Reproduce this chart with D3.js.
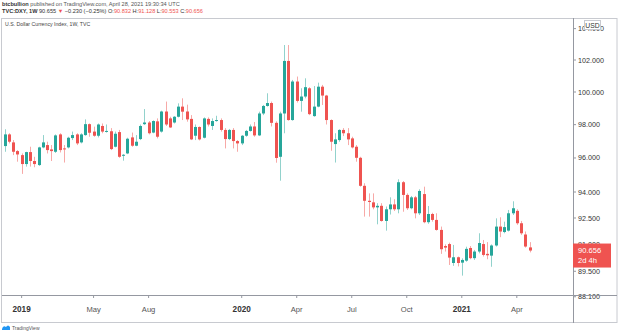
<!DOCTYPE html>
<html><head><meta charset="utf-8">
<script src="https://cdn.jsdelivr.net/npm/d3@7"></script>
<style>
html,body{margin:0;padding:0;background:#fff;}
svg{display:block;font-family:"Liberation Sans",Arial,sans-serif;}
</style></head>
<body>
<svg id="c" width="620" height="332"></svg>
<script>
// Weekly candles, first week starting 2018-12-10
const startWeek = "2018-12-10";
const opens  = [96.71,97.41,96.93,96.41,96.17,95.64,96.35,95.82,95.58,96.63,96.77,96.51,96.37,97.41,96.57,96.63,97.19,97.41,96.93,97.37,98.03,97.58,97.33,97.92,97.58,97.60,96.67,97.55,96.13,96.27,97.23,96.73,97.13,98.03,98.13,97.52,98.20,97.58,98.80,98.38,98.13,98.48,99.10,98.80,98.35,97.33,97.86,97.21,98.35,97.92,98.24,98.28,97.68,97.13,97.68,97.01,96.87,97.33,97.62,97.89,97.35,98.68,99.14,99.32,98.11,96.07,98.68,101.94,98.28,100.65,99.45,99.72,100.23,98.52,99.10,100.33,99.78,98.28,96.83,97.07,97.68,97.48,97.17,96.67,96.01,94.36,93.49,93.40,93.11,93.20,92.33,93.00,93.28,93.00,94.57,93.83,93.06,93.69,92.77,93.88,92.26,92.73,92.39,91.82,90.91,91.02,89.96,90.28,89.98,90.09,90.80,90.23,90.60,91.02,90.47,90.37,90.94,92.01,91.70,91.78,92.77,92.91,92.20,91.56,90.832];
const highs  = [97.72,97.48,97.07,96.47,96.27,96.37,96.67,96.07,96.67,97.37,96.97,96.77,97.41,97.48,96.77,97.27,97.58,97.48,97.48,98.32,98.07,97.88,98.07,98.07,98.01,97.79,97.58,97.68,96.23,97.21,97.52,97.37,98.01,98.95,98.22,98.26,98.38,98.85,99.41,98.48,98.52,99.30,99.61,99.22,98.58,98.01,97.89,98.44,98.44,98.38,98.54,98.38,97.79,97.74,97.79,97.07,97.37,97.68,98.01,98.16,98.79,99.20,99.92,99.41,98.20,98.79,102.95,102.95,100.75,100.96,100.23,100.85,100.30,100.37,100.58,100.44,99.82,98.32,97.48,97.72,97.79,97.79,97.27,96.77,96.07,94.51,93.92,93.92,93.35,93.35,93.16,93.69,93.58,94.74,94.64,93.92,93.77,93.77,94.16,94.31,93.19,92.80,92.77,92.01,91.00,91.10,90.97,90.32,90.22,90.87,90.91,90.69,91.63,91.25,91.13,91.00,92.48,92.54,92.29,92.96,93.46,93.00,92.33,91.73,91.128];
const lows   = [96.37,96.87,96.17,95.78,95.06,95.49,95.49,95.45,95.53,96.58,96.27,95.82,96.30,96.33,95.73,96.57,97.07,96.77,96.87,97.33,97.27,97.27,97.23,97.48,97.52,96.47,96.63,96.01,95.84,96.23,96.67,96.70,97.07,97.98,97.41,97.48,97.17,97.52,97.92,97.80,98.07,98.44,98.28,98.18,97.07,97.07,97.05,97.17,97.89,97.68,98.18,97.58,96.57,97.07,96.57,96.37,96.77,97.27,97.58,97.27,97.31,98.58,99.10,97.89,95.72,94.66,97.48,98.24,98.24,99.35,98.79,99.61,98.58,98.48,99.06,99.20,98.01,96.43,95.73,96.97,97.31,96.77,96.57,95.78,94.31,92.58,92.58,93.00,92.14,92.29,91.78,92.70,92.90,92.77,92.86,92.96,93.00,92.48,92.67,92.20,92.17,92.29,91.78,90.47,90.60,89.85,89.80,89.77,89.26,90.03,90.17,90.13,90.50,90.32,90.17,89.75,90.88,91.41,91.63,91.73,92.67,92.11,91.54,90.82,90.553];
const closes = [97.41,96.97,96.37,96.21,95.64,96.35,95.82,95.64,96.63,96.93,96.47,96.41,97.35,96.47,96.53,97.21,97.37,96.87,97.41,98.03,97.51,97.33,98.01,97.58,97.62,96.53,97.45,96.07,96.19,97.15,96.73,96.97,97.92,98.13,97.48,98.22,97.27,98.80,98.01,97.83,98.48,99.10,98.79,98.32,97.11,97.86,97.11,98.38,98.01,98.22,98.28,97.68,97.13,97.68,97.01,96.87,97.33,97.62,97.89,97.35,98.68,99.14,99.32,98.11,96.00,98.68,101.94,98.28,100.65,99.45,99.72,100.30,98.64,99.10,100.33,99.78,98.28,96.97,97.11,97.68,97.48,97.11,96.63,96.01,94.36,93.49,93.42,93.11,93.20,92.33,93.00,93.28,93.00,94.57,93.83,93.06,93.69,92.77,94.06,92.26,92.73,92.39,91.82,90.73,90.82,90.26,90.28,89.96,90.13,90.75,90.23,90.60,91.08,90.41,90.39,90.94,92.01,91.73,91.98,92.77,93.06,92.20,91.63,90.88,90.656];

const priceTicks = [104, 102, 100, 98, 96, 94, 92.5, 91, 89.5, 88.1];
const timeTickDates  = ["2019-01-07","2019-05-06","2019-08-05","2020-01-06","2020-04-06","2020-07-06","2020-10-05","2021-01-04","2021-04-05"];
const timeTickLabels = ["2019","May","Aug","2020","Apr","Jul","Oct","2021","Apr"];
const lastPrice = 90.656;
const lastPriceTimer = "2d 4h";

const parse = d3.timeParse("%Y-%m-%d");
const t0 = parse(startWeek);
const candles = opens.map((o,i)=>({date:d3.timeWeek.offset(t0,i),o,h:highs[i],l:lows[i],c:closes[i]}));

const svg = d3.select("#c");
const UP="#26a69a", DOWN="#ef5350";
const plot = {left:2, right:573, top:18, bottom:295};

const x = d3.scaleTime().domain([t0, candles[candles.length-1].date]).range([4.7, 529.5]);
const y = d3.scaleLog().domain([94, 102]).range([192, 60]);

// header
const h1 = svg.append("text").attr("x",2).attr("y",6).attr("font-size",5.6).attr("fill","#555");
h1.append("tspan").attr("font-weight","bold").attr("fill","#333").text("btcbullion");
h1.append("tspan").text(" published on TradingView.com, April 28, 2021 19:30:34 UTC");
const h2 = svg.append("text").attr("x",2).attr("y",13).attr("font-size",5.6).attr("fill","#333");
h2.append("tspan").attr("font-weight","bold").text("TVC:DXY, 1W");
h2.append("tspan").text(" 90.655 ");
h2.append("tspan").attr("fill",DOWN).text("▼");
h2.append("tspan").text(" −0.230 (−0.25%) O:");
h2.append("tspan").attr("fill",DOWN).text("90.832");
h2.append("tspan").text(" H:");
h2.append("tspan").attr("fill",DOWN).text("91.128");
h2.append("tspan").text(" L:");
h2.append("tspan").attr("fill",DOWN).text("90.553");
h2.append("tspan").text(" C:");
h2.append("tspan").attr("fill",DOWN).text("90.656");

// frame
svg.append("rect").attr("x",1.5).attr("y",18.5).attr("width",615.5).attr("height",304).attr("fill","none").attr("stroke","#c8cad0");

// subtitle
svg.append("text").attr("x",5).attr("y",26).attr("font-size",5.2).attr("fill","#444").text("U.S. Dollar Currency Index, 1W, TVC");

// candles (clipped)
svg.append("clipPath").attr("id","clip").append("rect")
  .attr("x",plot.left).attr("y",plot.top).attr("width",plot.right-plot.left).attr("height",plot.bottom-plot.top);
const g = svg.append("g").attr("clip-path","url(#clip)");
const cg = g.selectAll("g.cd").data(candles).join("g").attr("class","cd");
cg.append("line")
  .attr("x1",d=>Math.round(x(d.date))+0.5).attr("x2",d=>Math.round(x(d.date))+0.5)
  .attr("y1",d=>y(d.h)).attr("y2",d=>y(d.l))
  .attr("stroke",d=>d.c>=d.o?UP:DOWN).attr("stroke-opacity",0.5).attr("stroke-width",1);
cg.append("rect")
  .attr("x",d=>Math.round(x(d.date))-1).attr("width",3)
  .attr("y",d=>y(Math.max(d.o,d.c)))
  .attr("height",d=>Math.max(1,y(Math.min(d.o,d.c))-y(Math.max(d.o,d.c))))
  .attr("fill",d=>d.c>=d.o?UP:DOWN);

// price axis
svg.append("line").attr("x1",573.5).attr("x2",573.5).attr("y1",18).attr("y2",323).attr("stroke","#9598a1");
const pa = svg.append("g");
priceTicks.forEach(v=>{
  const yy=y(v);
  pa.append("line").attr("x1",573).attr("x2",576).attr("y1",yy).attr("y2",yy).attr("stroke","#9598a1");
  pa.append("text").attr("x",578).attr("y",yy).attr("dy","0.35em").attr("font-size",7.2).attr("fill","#333").text(d3.format(".3f")(v));
});
// USD box
svg.append("rect").attr("x",584.5).attr("y",20.5).attr("width",16).attr("height",9).attr("fill","#fff").attr("stroke","#c8cad0");
svg.append("text").attr("x",592.5).attr("y",25.3).attr("text-anchor","middle").attr("dy","0.35em").attr("font-size",6.8).attr("fill","#333").text("USD");

// last price label
const ly = y(lastPrice);
svg.append("rect").attr("x",573).attr("y",ly-7).attr("width",38).attr("height",24).attr("fill",DOWN);
svg.append("text").attr("x",578).attr("y",ly).attr("dy","0.35em").attr("font-size",7.6).attr("fill","#fff").text(d3.format(".3f")(lastPrice));
svg.append("text").attr("x",578).attr("y",ly+10).attr("dy","0.35em").attr("font-size",7.6).attr("fill","#fff").text(lastPriceTimer);

// time axis
svg.append("line").attr("x1",2).attr("x2",617).attr("y1",295.5).attr("y2",295.5).attr("stroke","#9598a1");
const ta = svg.append("g");
timeTickDates.forEach((ds,i)=>{
  const xx = x(parse(ds));
  const isYear = /^\d{4}$/.test(timeTickLabels[i]);
  ta.append("line").attr("x1",xx).attr("x2",xx).attr("y1",295).attr("y2",298).attr("stroke","#9598a1");
  ta.append("text").attr("x",xx).attr("y",309).attr("dy","0.35em").attr("text-anchor","middle")
    .attr("font-size",isYear?8.2:7.6).attr("font-weight",isYear?"bold":"normal").attr("fill",isYear?"#333":"#555")
    .text(timeTickLabels[i]);
});

// logo
const lg = svg.append("g").attr("transform","translate(2,328)");
lg.append("path").attr("d","M0,1 Q1,-3 4,-1 Q6,-4 8,-1 L8,2 L0,2 Z").attr("fill","#2196f3");
lg.append("text").attr("x",10).attr("y",1.8).attr("font-size",5).attr("fill","#555").text("TradingView");
</script>
</body></html>
